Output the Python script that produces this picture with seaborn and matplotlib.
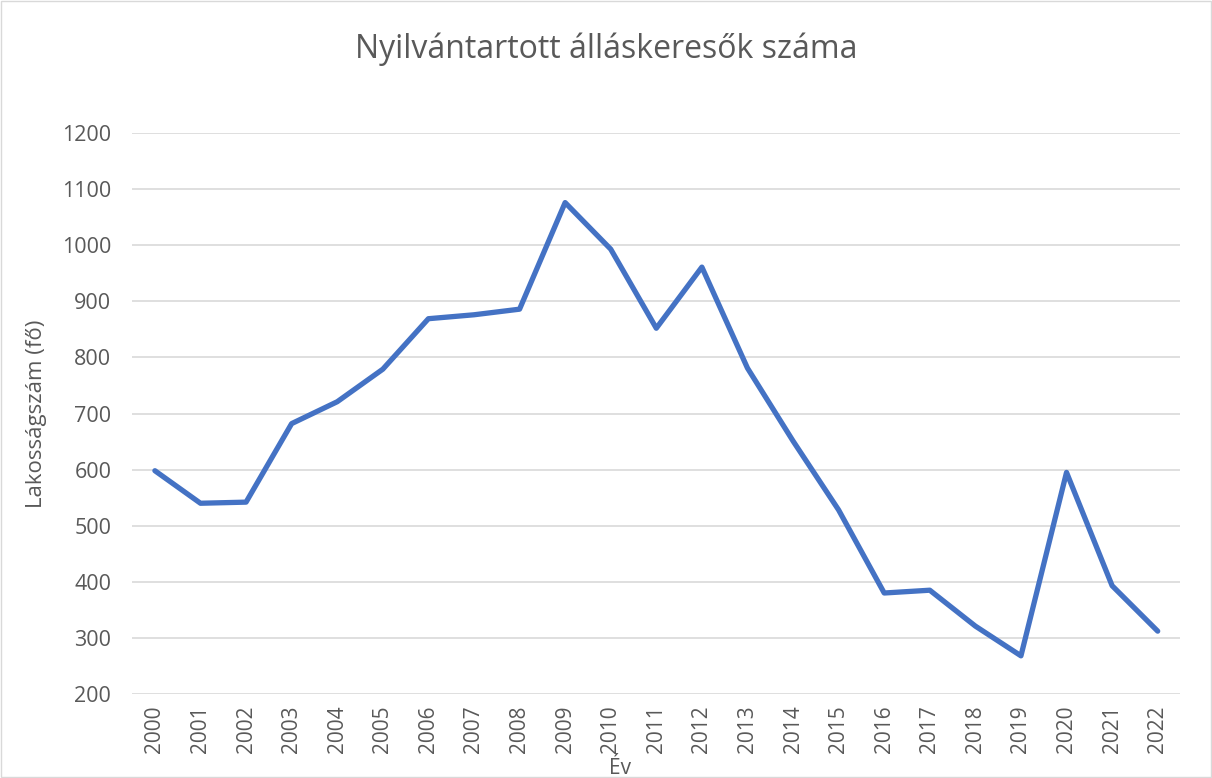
import matplotlib
matplotlib.use('Agg')
import matplotlib.pyplot as plt
import seaborn as sns
import pandas as pd

years = list(range(2000, 2023))
jobseekers = [598, 540, 542, 682, 721, 779, 869, 876, 886, 1076, 993, 852, 961,
              781, 651, 528, 380, 385, 321, 268, 595, 393, 312]

y_ticks = list(range(200, 1300, 100))

df = pd.DataFrame({'ev': [str(y) for y in years], 'fo': jobseekers})

sns.set_theme(style='white')
plt.rcParams['font.family'] = ['Open Sans', 'DejaVu Sans']

TXT = '#595959'
fig = plt.figure(figsize=(12.12, 7.78), dpi=100)
ax = fig.add_axes([0.109, 0.108, 0.865, 0.721])

sns.lineplot(data=df, x='ev', y='fo', ax=ax, color='#4472C4', linewidth=3.8,
             sort=False, solid_capstyle='round', solid_joinstyle='round')

ax.set_ylim(200, 1200)
ax.set_yticks(y_ticks)
ax.set_xlim(-0.5, len(years) - 0.5)
ax.grid(axis='y', color='#D9D9D9', linewidth=1.2)
ax.set_axisbelow(True)
for s in ax.spines.values():
    s.set_visible(False)

ax.tick_params(axis='y', labelsize=15.5, colors=TXT, length=0, pad=15)
ax.tick_params(axis='x', labelsize=15, colors=TXT, length=0, pad=8)
plt.setp(ax.get_xticklabels(), rotation=90)

ax.set_xlabel('')
fig.text(620 / 1212, 1 - 768 / 778, 'Év', fontsize=15, color=TXT, ha='center', va='center')
ax.set_ylabel('Lakosságszám (fő)', fontsize=16, color=TXT, labelpad=11)
fig.suptitle('Nyilvántartott álláskeresők száma', fontsize=23, color=TXT, y=0.958)

fig.patches.append(plt.Rectangle((0.001, 0.001), 0.998, 0.998, transform=fig.transFigure,
                                 fill=False, edgecolor='#D9D9D9', linewidth=1))

fig.savefig('out.png', dpi=100, facecolor='white')
